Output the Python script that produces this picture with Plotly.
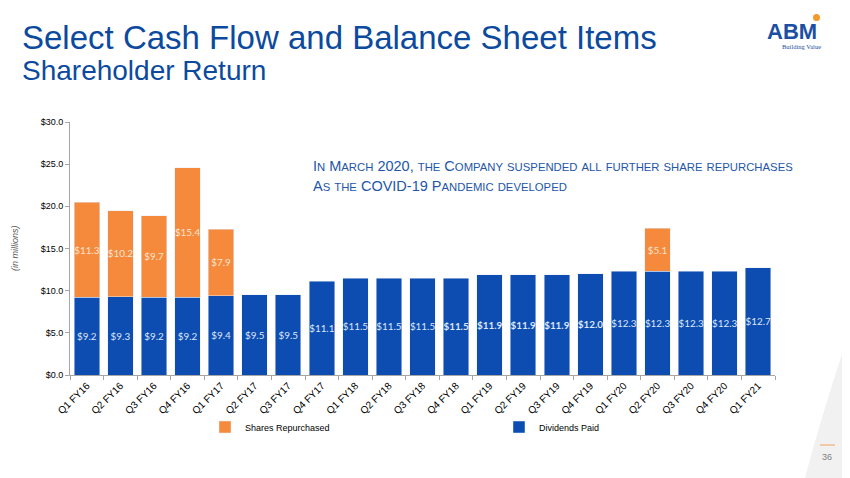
import plotly.graph_objects as go

# quarterly shareholder return, $ millions
quarters = ["Q1 FY16", "Q2 FY16", "Q3 FY16", "Q4 FY16", "Q1 FY17", "Q2 FY17", "Q3 FY17",
            "Q4 FY17", "Q1 FY18", "Q2 FY18", "Q3 FY18", "Q4 FY18", "Q1 FY19", "Q2 FY19",
            "Q3 FY19", "Q4 FY19", "Q1 FY20", "Q2 FY20", "Q3 FY20", "Q4 FY20", "Q1 FY21"]
dividends = [9.2, 9.3, 9.2, 9.2, 9.4, 9.5, 9.5, 11.1, 11.5, 11.5, 11.5, 11.5, 11.9, 11.9,
             11.9, 12.0, 12.3, 12.3, 12.3, 12.3, 12.7]
repurchases = [11.3, 10.2, 9.7, 15.4, 7.9, None, None, None, None, None, None, None, None,
               None, None, None, None, 5.1, None, None, None]
# labels shown in bold on the slide
bold_labels = ["Q4 FY18", "Q1 FY19", "Q2 FY19", "Q3 FY19", "Q4 FY19"]

BLUE = "#0d4db2"
ORANGE = "#f58a3d"
TITLE_BLUE = "#0c4a9e"

# the page body adds an 8px margin, so the figure is drawn 8px in from the corner
OFF = 8
W, H = 850 - OFF, 478 - OFF
# plot area as seen in the screenshot
L, R, T, B = 70, 775, 122, 375


def px(x):
    return (x - L) / (R - L)


def py(y):
    return (B - y) / (B - T)


def sc(s, small=11.3):
    """fake small caps: lower-case letters become small upper-case"""
    out = ""
    for ch in s:
        if ch.islower():
            out += f"<span style='font-size:{small}px'>{ch.upper()}</span>"
        else:
            out += ch
    return out


div_text = [f"<b>${v:.1f}</b>" if q in bold_labels else f"${v:.1f}"
            for q, v in zip(quarters, dividends)]
rep_text = [f"${v:.1f}" if v is not None else "" for v in repurchases]

fig = go.Figure()
fig.add_trace(go.Bar(
    x=quarters, y=dividends, name="Dividends Paid", marker_color=BLUE,
    text=div_text, textposition="inside", insidetextanchor="middle",
    textfont=dict(family="Lato", size=10.5, color="#dfe7f5"), textangle=0,
    legend="legend2",
))
fig.add_trace(go.Bar(
    x=quarters, y=repurchases, name="Shares Repurchased", marker_color=ORANGE,
    text=rep_text, textposition="inside", insidetextanchor="middle",
    textfont=dict(family="Lato", size=10.5, color="#fde4cf"), textangle=0,
    legend="legend",
))

annos = [
    dict(text="Select Cash Flow and Balance Sheet Items", x=px(20), y=py(38),
         font=dict(size=33, color=TITLE_BLUE, family="Liberation Sans")),
    dict(text="Shareholder Return", x=px(20), y=py(70),
         font=dict(size=28, color=TITLE_BLUE, family="Liberation Sans")),
    dict(text=sc("In March 2020, the Company suspended all further share repurchases"),
         x=px(311), y=py(166),
         font=dict(size=14.5, color="#2456a8", family="Liberation Sans")),
    dict(text=sc("As the COVID-19 Pandemic developed"), x=px(311), y=py(186),
         font=dict(size=14.5, color="#2456a8", family="Liberation Sans")),
    dict(text="<i>(in millions)</i>", x=px(15), y=py(248), textangle=-90,
         xanchor="center", font=dict(size=9, color="#595959", family="Liberation Sans")),
    dict(text="<b>ABM</b>", x=px(792), y=py(31), xanchor="center",
         font=dict(size=22, color="#1b4fa3", family="Liberation Sans")),
    dict(text="Building Value", x=px(801), y=py(46.5), xanchor="center",
         font=dict(size=6.5, color="#1b4fa3", family="Liberation Sans Narrow")),
    dict(text="36", x=px(827), y=py(457), xanchor="center",
         font=dict(size=9, color="#7f7f7f", family="Liberation Sans")),
]
for a in annos:
    a.setdefault("xanchor", "left")
    a.update(xref="paper", yref="paper", yanchor="middle", showarrow=False)

shapes = [
    # orange dot of the logo
    dict(type="circle", xref="paper", yref="paper", x0=px(813), x1=px(820),
         y0=py(21), y1=py(14), fillcolor="#f39a2a", line_width=0),
    # small orange rule above the page number
    dict(type="line", xref="paper", yref="paper", x0=px(820), x1=px(835),
         y0=py(445), y1=py(445), line=dict(color="#f0a460", width=1)),
    # grey swoosh at the bottom right corner
    dict(type="path", xref="paper", yref="paper", layer="below", line_width=0,
         fillcolor="#f1f1f1",
         path=f"M {px(850)},{py(330)} Q {px(820)},{py(420)} {px(805)},{py(478)} "
              f"L {px(850)},{py(478)} Z"),
]

legend_style = dict(orientation="h", xanchor="left", yanchor="middle",
                    font=dict(size=9, color="#000000"), itemclick=False,
                    bgcolor="rgba(0,0,0,0)")

fig.update_layout(
    barmode="stack", bargap=0.24,
    width=W, height=H,
    margin=dict(l=L - OFF, r=W - (R - OFF), t=T - OFF, b=H - (B - OFF), autoexpand=False),
    paper_bgcolor="white", plot_bgcolor="rgba(0,0,0,0)",
    font=dict(family="Liberation Sans", size=10, color="#000000"),
    annotations=annos, shapes=shapes,
    showlegend=True,
    legend=dict(x=px(205), y=py(427), **legend_style),
    legend2=dict(x=px(499), y=py(427), **legend_style),
    uniformtext=dict(minsize=8, mode="show"),
)
fig.update_xaxes(
    tickangle=-45, showline=True, linecolor="#a6a6a6", linewidth=1,
    ticks="outside", tickson="boundaries", ticklen=4, tickcolor="#a6a6a6",
    tickfont=dict(size=10, color="#000000"), showgrid=False, automargin=False,
)
fig.update_yaxes(
    range=[0, 30], dtick=5, tickprefix="$", tickformat=".1f",
    showline=True, linecolor="#a6a6a6", linewidth=1, ticks="outside", ticklen=4,
    tickcolor="#a6a6a6", tickfont=dict(size=9, color="#000000"),
    showgrid=False, zeroline=False, automargin=False,
)

fig.write_html("out.html")
